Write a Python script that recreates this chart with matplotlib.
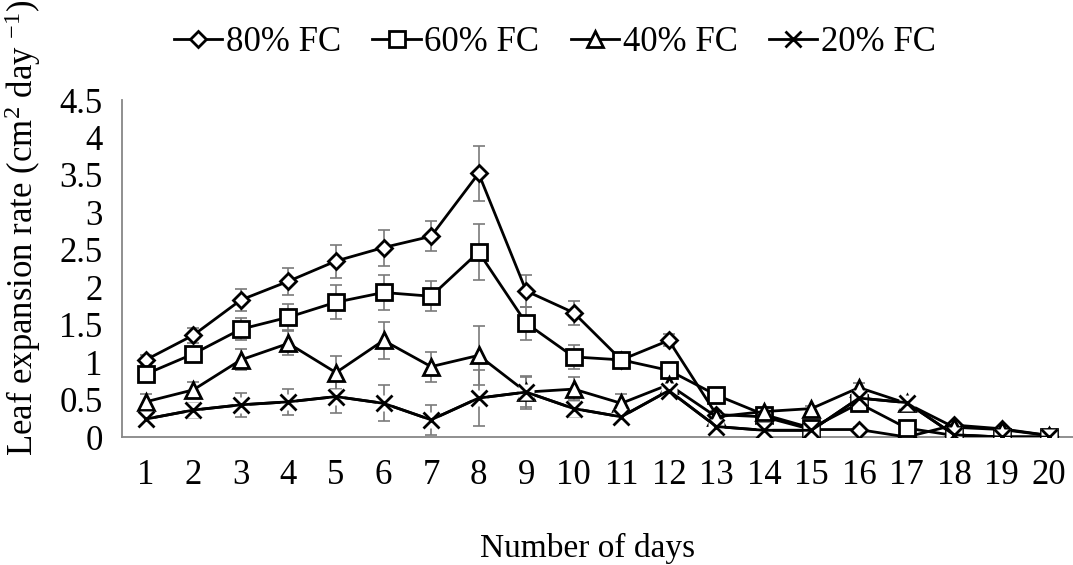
import numpy as np
import matplotlib.pyplot as plt

plt.rcParams['font.family'] = ['Liberation Serif', 'DejaVu Serif']
plt.rcParams['mathtext.fontset'] = 'custom'
plt.rcParams['mathtext.rm'] = 'Liberation Serif'
plt.rcParams['mathtext.it'] = 'Liberation Serif:italic'

# data
days = list(range(1, 21))
fc80 = [1.03, 1.36, 1.83, 2.08, 2.35, 2.53, 2.68, 3.52, 1.95, 1.66,
        1.03, 1.29, 0.30, 0.27, 0.10, 0.10, 0.00, 0.16, 0.11, 0.02]
fc60 = [0.84, 1.11, 1.44, 1.60, 1.80, 1.93, 1.88, 2.47, 1.52, 1.07,
        1.03, 0.89, 0.56, 0.30, 0.12, 0.45, 0.12, 0.02, 0.00, 0.00]
fc40 = [0.47, 0.63, 1.03, 1.25, 0.86, 1.29, 0.94, 1.09, 0.60, 0.64,
        0.45, 0.70, 0.27, 0.34, 0.38, 0.66, 0.45, 0.13, 0.10, 0.02]
fc20 = [0.24, 0.36, 0.43, 0.47, 0.54, 0.45, 0.23, 0.52, 0.60, 0.38,
        0.27, 0.62, 0.14, 0.09, 0.09, 0.52, 0.46, 0.03, 0.00, 0.00]
err80 = [0.07, 0.10, 0.15, 0.18, 0.22, 0.24, 0.20, 0.37, 0.22, 0.16,
         0.05, 0.08, 0.05, 0.03, 0.03, 0.03, 0.02, 0.03, 0.02, 0.01]
err60 = [0.05, 0.06, 0.15, 0.17, 0.23, 0.24, 0.20, 0.37, 0.22, 0.16,
         0.05, 0.05, 0.05, 0.03, 0.03, 0.05, 0.03, 0.02, 0.01, 0.01]
err40 = [0.10, 0.10, 0.14, 0.16, 0.22, 0.25, 0.20, 0.39, 0.20, 0.16,
         0.13, 0.08, 0.05, 0.04, 0.04, 0.06, 0.05, 0.03, 0.02, 0.01]
err20 = [0.05, 0.10, 0.16, 0.17, 0.22, 0.24, 0.20, 0.37, 0.22, 0.11,
         0.10, 0.06, 0.05, 0.03, 0.03, 0.05, 0.04, 0.02, 0.01, 0.01]
labels = ['80% FC', '60% FC', '40% FC', '20% FC']
yticks = [0, 0.5, 1, 1.5, 2, 2.5, 3, 3.5, 4, 4.5]
ytick_labels = ['0', '0.5', '1', '1.5', '2', '2.5', '3', '3.5', '4', '4.5']

fig = plt.figure(figsize=(10.73, 5.65), dpi=100)
ax = fig.add_axes([0.1137, 0.2265, 0.8863, 0.5965])

series = [(fc80, err80, 'D', 8.0), (fc60, err60, 's', 12), (fc40, err40, '^', 12), (fc20, err20, 'x', 11)]

# error bars underneath everything
for vals, err, m, ms in series:
    ax.errorbar(days, vals, yerr=err, fmt='none', ecolor='#7a7a7a',
                elinewidth=1.2, capsize=4, capthick=1.2, zorder=1)

handles = []
for i, (vals, err, m, ms) in enumerate(series):
    z = 3 + i * 2
    if m == 'x':
        # excel draws the x marker on a white box
        ax.plot(days, vals, color='black', linewidth=2.0, zorder=z)
        ax.plot(days, vals, 's', ms=ms, mfc='white', mec='none', zorder=z + 0.5)
        h, = ax.plot(days, vals, color='black', linewidth=2.0, marker='x', ms=ms,
                     mew=2.0, zorder=z + 1)
    else:
        h, = ax.plot(days, vals, color='black', linewidth=2.0, marker=m, ms=ms,
                     mfc='white', mec='black', mew=2.0, zorder=z)
    handles.append(h)

ax.set_xlim(0.5, 20.5)
ax.set_ylim(0, 4.5)
ax.set_xticks(days)
ax.set_xticklabels([str(d) for d in days])
ax.set_yticks(yticks)
ax.set_yticklabels(ytick_labels)
ax.tick_params(axis='both', length=0, labelsize=25)
ax.tick_params(axis='y', pad=14)
ax.tick_params(axis='x', pad=16)

for s in ['top', 'right']:
    ax.spines[s].set_visible(False)
for s in ['left', 'bottom']:
    ax.spines[s].set_color('#878787')
    ax.spines[s].set_linewidth(1.3)

fig.text(0.548, 0.03, 'Number of days', fontsize=24, ha='center', va='center')
fig.text(0.021, 0.597, 'Leaf expansion rate (cm$^{2}$ day $^{\\mathrm{-1}}$)', fontsize=25,
         rotation=90, ha='center', va='center')

fig.legend(handles, labels, loc='center', bbox_to_anchor=(0.517, 0.924), ncol=4,
           frameon=False, fontsize=25, handlelength=1.4, handletextpad=0.1,
           columnspacing=0.9, borderaxespad=0)

fig.savefig('out.png', dpi=100)
